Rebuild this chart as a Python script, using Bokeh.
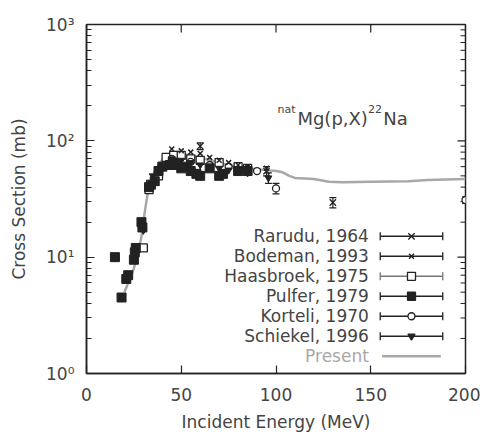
from bokeh.plotting import figure
from bokeh.models import FixedTicker
from bokeh.core.properties import value
from bokeh.embed import file_html
from bokeh.resources import INLINE

FONT = "DejaVu Sans"

# ---- data ----
present_x = [20, 22, 25, 27, 29, 30, 31, 32, 33, 35, 38, 41, 44, 47, 50, 55, 60, 65, 70, 75, 80, 85, 90, 95, 100, 103, 107, 110, 120, 128, 135, 150, 170, 180, 190, 200]
present_y = [5, 6, 8, 10.5, 15, 20, 26, 33, 40, 50, 62, 72, 78, 80, 78, 75, 72, 68, 65, 62, 60, 58, 57, 56, 55, 54, 50, 48, 47, 44.5, 44, 44.5, 45, 46, 46.5, 47]

pulfer_x = [15, 18.5, 21, 22, 25, 25.5, 26, 29, 29.5, 33, 34, 36, 38, 40, 44, 46, 48, 50, 52, 55, 58, 60, 65, 70, 72, 80, 85]
pulfer_y = [10, 4.5, 6.5, 7, 9.5, 11, 12, 20, 18, 40, 42, 45, 55, 60, 62, 65, 62, 58, 60, 55, 52, 50, 58, 50, 52, 55, 55]

schiekel_x = [30, 35, 40, 45, 50, 55, 60, 65, 70, 75, 80, 85, 96]
schiekel_y = [17, 50, 62, 70, 68, 65, 62, 60, 58, 56, 55, 53, 48]
schiekel_err = [0, 0, 0, 0, 0, 0, 0, 0, 0, 0, 0, 0, 5]

bodeman_x = [45, 50, 55, 60, 65, 70, 75, 80, 85, 95]
bodeman_y = [85, 82, 80, 78, 72, 68, 65, 62, 60, 58]

rarudu_x = [60, 95, 130]
rarudu_y = [90, 55, 29.5]
rarudu_err = [6, 5, 3]

haasbroek_x = [30, 33, 38, 42, 46, 50, 55, 60, 70, 80, 85]
haasbroek_y = [12, 38, 50, 72, 75, 75, 70, 68, 65, 60, 58]

korteli_x = [45, 55, 65, 75, 85, 90, 100, 200]
korteli_y = [70, 66, 62, 60, 57, 55, 39, 31]
korteli_err = [0, 0, 0, 0, 0, 0, 4, 2]

legend_labels = ["Rarudu, 1964", "Bodeman, 1993", "Haasbroek, 1975", "Pulfer, 1979", "Korteli, 1970", "Schiekel, 1996", "Present"]

x_ticks = [0, 50, 100, 150, 200]
y_ticks = [1, 10, 100, 1000]
y_tick_labels = {1: "10⁰", 10: "10¹", 100: "10²", 1000: "10³"}
y_minor = [m * d for d in (1, 10, 100) for m in range(2, 10)]

DARK = "#222222"
GRAY = "#a8a8a8"
TXT = "#444444"

X0, X1, Y0, Y1 = 0, 200, 1, 1000
PX_PER_X = 379 / (X1 - X0)      # frame is 379 px wide
PX_PER_DEC = 349 / 3            # frame is 349 px tall over 3 decades

p = figure(width=480, height=438, x_range=(X0, X1), y_range=(Y0, Y1),
           y_axis_type="log", output_backend="svg", toolbar_location=None,
           min_border_left=86, min_border_right=15, min_border_top=24, min_border_bottom=65)
p.grid.visible = False
p.outline_line_color = DARK
p.outline_line_width = 1.5
p.background_fill_color = "white"
p.border_fill_color = "white"

for ax in (p.xaxis[0], p.yaxis[0]):
    ax.major_tick_in = 8
    ax.major_tick_out = 0
    ax.minor_tick_in = 5
    ax.minor_tick_out = 0
    ax.axis_line_color = DARK
    ax.axis_line_width = 1.5
    ax.major_tick_line_color = DARK
    ax.minor_tick_line_color = DARK
    ax.major_tick_line_width = 1.2
    ax.minor_tick_line_width = 1
    ax.major_label_text_font = FONT
    ax.major_label_text_font_size = "17px"
    ax.major_label_text_color = TXT
    ax.axis_label_text_font = FONT
    ax.axis_label_text_font_size = "17px"
    ax.axis_label_text_font_style = "normal"
    ax.axis_label_text_color = TXT

p.xaxis.ticker = FixedTicker(ticks=x_ticks, minor_ticks=[])
p.yaxis.ticker = FixedTicker(ticks=y_ticks, minor_ticks=y_minor)
p.yaxis.major_label_overrides = y_tick_labels
p.xaxis.axis_label = "Incident Energy (MeV)"
p.yaxis.axis_label = "Cross Section (mb)"
p.xaxis.major_label_standoff = 14
p.yaxis.major_label_standoff = 12
p.xaxis.axis_label_standoff = 8
p.yaxis.axis_label_standoff = 14

# inward ticks on the top and right frame edges (from the same tick lists)
top_len = 10 ** (8 / PX_PER_DEC)
p.segment(x_ticks, [Y1] * len(x_ticks), x_ticks, [Y1 / top_len] * len(x_ticks), line_color=DARK, line_width=1.2)
p.segment([X1] * len(y_ticks), y_ticks, [X1 - 8 / PX_PER_X] * len(y_ticks), y_ticks, line_color=DARK, line_width=1.2)
p.segment([X1] * len(y_minor), y_minor, [X1 - 5 / PX_PER_X] * len(y_minor), y_minor, line_color=DARK, line_width=1)

# Present curve
p.line(present_x, present_y, line_color=GRAY, line_width=2.5)

def errbars(xs, ys, es, color=DARK):
    ex = [x for x, e in zip(xs, es) if e > 0]
    lo = [y - e for y, e in zip(ys, es) if e > 0]
    hi = [y + e for y, e in zip(ys, es) if e > 0]
    if ex:
        p.segment(ex, lo, ex, hi, line_color=color, line_width=1.2)
        p.scatter(ex + ex, lo + hi, marker="dash", size=7, line_color=color, line_width=1.2)

errbars(rarudu_x, rarudu_y, rarudu_err)
errbars(korteli_x, korteli_y, korteli_err)
errbars(schiekel_x, schiekel_y, schiekel_err)

p.scatter(haasbroek_x, haasbroek_y, marker="square", size=8, fill_color="white", line_color=DARK, line_width=1.3)
p.scatter(korteli_x, korteli_y, marker="circle", size=7, fill_color="white", line_color=DARK, line_width=1.3)
p.scatter(schiekel_x, schiekel_y, marker="inverted_triangle", size=7, fill_color=DARK, line_color=DARK)
p.scatter(bodeman_x, bodeman_y, marker="x", size=7, line_color=DARK, line_width=1.5)
p.scatter(rarudu_x, rarudu_y, marker="x", size=9, line_color=DARK, line_width=1.3)
p.scatter(pulfer_x, pulfer_y, marker="square", size=9, fill_color=DARK, line_color=DARK)

# ---- legend (drawn manually: label left, errorbar-style sample right) ----
leg_top = 15.1
step = 10 ** (-0.1717)
rows = [leg_top * step ** i for i in range(len(legend_labels))]
lx0, lx1, lxm, ltx = 155, 188, 171.5, 149
cap = 10 ** (4 / PX_PER_DEC)
samples = [("x", 9, None), ("x", 7, None), ("square", 8, "white"), ("square", 8, DARK),
           ("circle", 7, "white"), ("inverted_triangle", 7, DARK)]
for i, lab in enumerate(legend_labels):
    y = rows[i]
    is_present = lab == "Present"
    p.text([ltx], [y], text=[lab], text_font=value(FONT), text_font_size="17px",
           text_color=GRAY if is_present else TXT, text_align="right", text_baseline="middle")
    if is_present:
        p.segment([lx0 + 1], [y], [lx1 - 1], [y], line_color=GRAY, line_width=2.5)
        continue
    lc = "#777777" if lab.startswith("Haas") else DARK
    p.segment([lx0], [y], [lx1], [y], line_color=lc, line_width=1.5)
    p.segment([lx0, lx1], [y / cap, y / cap], [lx0, lx1], [y * cap, y * cap], line_color=lc, line_width=1.3)
    mk, sz, fc = samples[i]
    if fc is None:
        p.scatter([lxm], [y], marker=mk, size=sz, line_color=DARK, line_width=1.4)
    else:
        p.scatter([lxm], [y], marker=mk, size=sz, fill_color=fc, line_color=DARK, line_width=1.3)

# ---- reaction title with superscripts ----
p.text([100.8], [186], text=["nat"], text_font=value(FONT), text_font_size="11px", text_color=TXT, text_baseline="alphabetic")
p.text([111.3], [156], text=["Mg(p,X)"], text_font=value(FONT), text_font_size="18px", text_color=TXT, text_baseline="alphabetic")
p.text([148.6], [186], text=["22"], text_font=value(FONT), text_font_size="11px", text_color=TXT, text_baseline="alphabetic")
p.text([156.6], [156], text=["Na"], text_font=value(FONT), text_font_size="18px", text_color=TXT, text_baseline="alphabetic")

open("out.html", "w").write(file_html(p, INLINE))
